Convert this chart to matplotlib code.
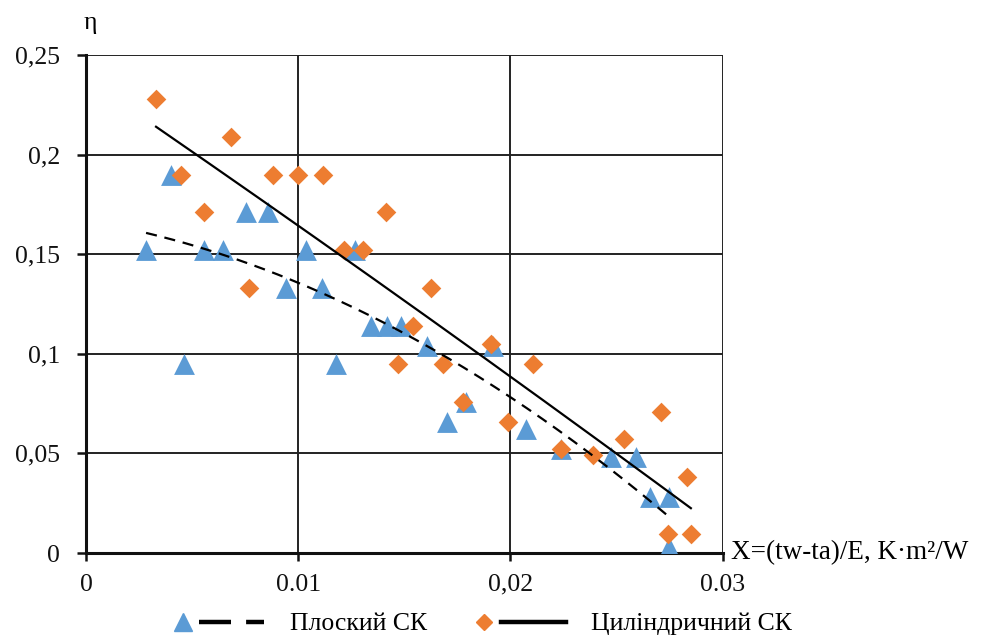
import numpy as np
import matplotlib
matplotlib.use("Agg")
import matplotlib.pyplot as plt
from matplotlib.lines import Line2D
from matplotlib.legend_handler import HandlerBase

plt.rcParams['font.family'] = ['Liberation Serif', 'DejaVu Serif']

# ---- data ----
flat_x = [0.00283, 0.0040, 0.00462, 0.00557, 0.00646, 0.00755, 0.00858, 0.00943,
          0.01038, 0.01113, 0.0118, 0.01269, 0.01344, 0.0142, 0.01486, 0.01608,
          0.0170, 0.01792, 0.0192, 0.02075, 0.0224, 0.02476, 0.0259, 0.02656,
          0.02745, 0.02745]
flat_y = [0.152, 0.190, 0.095, 0.152, 0.152, 0.171, 0.171, 0.133,
          0.152, 0.133, 0.095, 0.152, 0.114, 0.114, 0.114, 0.104,
          0.066, 0.076, 0.104, 0.062, 0.052, 0.048, 0.048, 0.028,
          0.028, 0.003]

cyl_x = [0.0033, 0.00448, 0.00557, 0.00684, 0.00769, 0.00882, 0.0100, 0.01118,
         0.01217, 0.01307, 0.01415, 0.01472, 0.01543, 0.01627, 0.01684, 0.01778,
         0.0191, 0.0199, 0.02108, 0.02236, 0.02391, 0.02533, 0.02708, 0.0283,
         0.0274, 0.0285]
cyl_y = [0.228, 0.190, 0.171, 0.209, 0.133, 0.190, 0.190, 0.190,
         0.152, 0.152, 0.171, 0.095, 0.114, 0.133, 0.095, 0.076,
         0.105, 0.066, 0.095, 0.052, 0.049, 0.057, 0.071, 0.038,
         0.0095, 0.0095]

x_ticks = [0, 0.01, 0.02, 0.03]
x_tick_labels = ["0", "0.01", "0,02", "0.03"]
y_ticks = [0, 0.05, 0.10, 0.15, 0.20, 0.25]
y_tick_labels = ["0", "0,05", "0,1", "0,15", "0,2", "0,25"]

series_labels = ["Плоский СК", "Циліндричний СК"]
x_label = "X=(tw-ta)/E, K·m²/W"
y_label = "η"

BLUE = "#5B9BD5"
ORANGE = "#ED7D31"
FS = 18.5

fig = plt.figure(figsize=(9.93, 6.39), dpi=100)
ax = fig.add_axes([86/993, 1-553/639, (722.7-86)/993, (553-55)/639])

ax.set_xlim(0, 0.03)
ax.set_ylim(0, 0.25)

# grid
ax.grid(True, color="#222222", linewidth=1.4)
ax.set_axisbelow(True)

for s in ["top", "right"]:
    ax.spines[s].set_visible(False)
for s in ["left", "bottom"]:
    ax.spines[s].set_linewidth(2.2)
    ax.spines[s].set_color("#111111")

ax.set_xticks(x_ticks)
ax.set_xticklabels(x_tick_labels, fontsize=FS)
ax.set_yticks(y_ticks)
ax.set_yticklabels(y_tick_labels, fontsize=FS)
ax.tick_params(axis='y', length=6.5, width=1.8, pad=12, colors="#111111")
ax.tick_params(axis='x', length=6.0, width=1.8, pad=9, colors="#111111")

# trend lines (2nd-order polynomial fits)
fx = np.array(flat_x); fy = np.array(flat_y)
cx = np.array(cyl_x); cy = np.array(cyl_y)
pf = np.polyfit(fx, fy, 2)
pc = np.polyfit(cx, cy, 2)
xx_f = np.linspace(fx.min(), fx.max(), 200)
xx_c = np.linspace(cx.min(), cx.max(), 200)

ax.scatter(flat_x, flat_y, marker='^', s=15**2, color=BLUE, zorder=3, linewidths=0)
ax.scatter(cyl_x, cyl_y, marker='D', s=10**2, color=ORANGE, zorder=3, linewidths=0)
ax.plot(xx_f, np.polyval(pf, xx_f), color="black", lw=1.6, ls=(0, (5, 3.5)), zorder=4)
ax.plot(xx_c, np.polyval(pc, xx_c), color="black", lw=1.6, ls='-', zorder=4)

# axis labels
fig.text(90/993, 1-23/639, y_label, fontsize=FS, ha='center', va='center')
ax.annotate(x_label, xy=(1, 0), xycoords='axes fraction', xytext=(6, 0),
            textcoords='offset points', fontsize=19.5, ha='left', va='center')

# legend: marker on the left, line on the right
class MarkerLine(HandlerBase):
    def __init__(self, style):
        super().__init__()
        self.style = style

    def create_artists(self, legend, orig_handle, xdescent, ydescent, width,
                       height, fontsize, trans):
        mk, ln = orig_handle
        y = height / 2 - ydescent
        m = Line2D([-xdescent + width * 0.12], [y], marker=mk.get_marker(),
                   markersize=mk.get_markersize(), color=mk.get_color(), ls='None')
        l = Line2D([-xdescent + width * 0.30, -xdescent + width], [y, y],
                   color=ln.get_color(), lw=ln.get_linewidth(), ls=self.style,
                   dash_capstyle='butt')
        for a in (m, l):
            a.set_transform(trans)
        return [m, l]

h1 = (Line2D([], [], marker='^', markersize=13, color=BLUE, ls='None'),
      Line2D([], [], color='black', lw=3.2))
h2 = (Line2D([], [], marker='D', markersize=8, color=ORANGE, ls='None'),
      Line2D([], [], color='black', lw=3.2))
fig.legend([h1, h2], series_labels,
           handler_map={h1: MarkerLine((0, (7.2, 3.4))), h2: MarkerLine('-')},
           loc='center', bbox_to_anchor=(482/993, 1-624/639), ncol=2,
           frameon=False, fontsize=FS, handlelength=3.6, handletextpad=1.0,
           columnspacing=1.8, borderpad=0)

fig.savefig("out.png", dpi=100)
